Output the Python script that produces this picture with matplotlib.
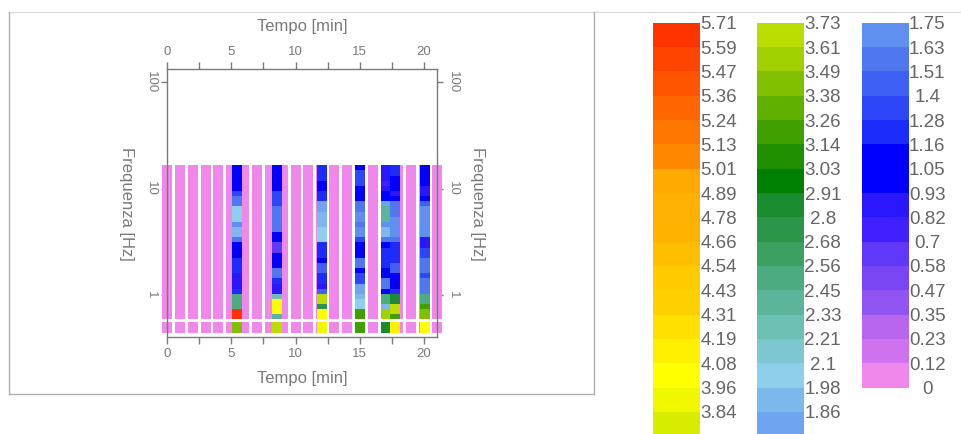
#!/usr/bin/python
import numpy as np
import matplotlib
matplotlib.use("Agg")
import matplotlib.pyplot as plt
from matplotlib.colors import ListedColormap, BoundaryNorm
from matplotlib.lines import Line2D
from matplotlib.ticker import NullLocator

plt.rcParams['font.family'] = ['Liberation Sans', 'DejaVu Sans']

W, H = 961, 434
GREY = '#7a7a7a'

# colour scale, top to bottom
levelLabels1 = ['5.71', '5.59', '5.47', '5.36', '5.24', '5.13', '5.01', '4.89', '4.78',
                '4.66', '4.54', '4.43', '4.31', '4.19', '4.08', '3.96', '3.84']
levelLabels2 = ['3.73', '3.61', '3.49', '3.38', '3.26', '3.14', '3.03', '2.91', '2.8',
                '2.68', '2.56', '2.45', '2.33', '2.21', '2.1', '1.98', '1.86']
levelLabels3 = ['1.75', '1.63', '1.51', '1.4', '1.28', '1.16', '1.05', '0.93', '0.82',
                '0.7', '0.58', '0.47', '0.35', '0.23', '0.12', '0']
bandColors1 = ['#ff3300', '#ff4400', '#ff5500', '#ff6600', '#ff7700', '#ff8800', '#ffaa00',
               '#ffb000', '#ffb300', '#ffbf00', '#ffcc00', '#ffd000', '#ffe000', '#fff000',
               '#ffff00', '#f0f800', '#d8ec00']
bandColors2 = ['#bbdd00', '#a0d000', '#80c000', '#60b000', '#40a000', '#209000', '#008000',
               '#1a8c30', '#2b964a', '#3ca060', '#4dab80', '#5cb59a', '#6cbfb3', '#7cc7d0',
               '#8ed0ec', '#7db8ec', '#6ea4f0']
bandColors3 = ['#5f8ff0', '#4f78f0', '#3f60f5', '#2c46f8', '#1c2cfa', '#0000ff', '#0000ff',
               '#2a16ff', '#4020ff', '#6038fa', '#7a46f5', '#9055f0', '#b866f0', '#d072ee',
               '#f088ec']

# frequency bin edges [Hz], top to bottom
freqEdges = [16.5, 14.77, 13.21, 11.83, 10.58, 9.47, 8.47, 7.58, 6.79, 6.07, 5.43, 4.86,
             4.35, 3.89, 3.48, 3.12, 2.79, 2.50, 2.23, 2.00, 1.79, 1.60, 1.43, 1.28, 1.15,
             1.03, 0.92, 0.82, 0.74, 0.66, 0.59]
lowEdges = [0.558, 0.44]

# empty measurements every minute
pinkTimes = list(range(0, 22))

# measured columns
times = [5.45, 8.55, 12.05, 15.0, 17.0, 17.75, 20.05]
col0 = [1.05, 1.05, 1.05, 1.05, 1.1, 1.3, 1.6, 1.6, 2.05, 2.05, 2.05, 1.7, 1.95, 1.95, 1.6,
        1.05, 1.05, 1.05, 1.25, 1.25, 1.25, 0.9, 0.9, 0.9, 1.2, 2.5, 2.5, 2.5, 5.65, 5.65]
col1 = [1.05, 1.05, 1.05, 1.05, 1.05, 1.3, 1.35, 1.35, 1.6, 1.6, 1.6, 1.6, 1.6, 1.05, 1.05,
        0.65, 0.65, 1.05, 1.05, 1.05, 1.55, 1.55, 1.2, 0.9, 0.9, 2.25, 4.05, 4.05, 4.05, 2.35]
col2 = [1.25, 1.25, 1.25, 1.05, 1.05, 1.2, 1.2, 1.8, 1.8, 1.95, 1.95, 1.95, 2.05, 2.05, 2.05,
        1.25, 1.25, 1.25, 1.1, 1.4, 1.4, 1.2, 1.2, 0.9, 1.45, 3.65, 3.65, 2.75, 4.05, 4.05]
col3 = [1.05, 1.3, 1.3, 1.3, 0.95, 0.95, 1.1, 1.55, 1.55, 1.7, 1.7, 1.55, 1.65, 1.65, 1.3,
        1.05, 1.05, 1.05, 1.55, 1.55, 1.05, 1.3, 1.3, 1.85, 1.85, 1.95, 2.05, 2.05, 3.25, 3.25]
col4 = [0.9, 0.9, 0.9, 0.7, 0.9, 1.05, 1.05, 1.8, 2.35, 2.35, 2.35, 1.7, 1.95, 1.95, 1.6,
        1.1, 1.2, 1.2, 1.2, 1.2, 1.05, 1.05, 1.6, 1.6, 1.1, 2.45, 2.45, 1.9, 3.6, 3.6]
col5 = [1.25, 1.25, 1.05, 1.05, 1.05, 0.85, 1.1, 1.55, 1.55, 1.55, 1.7, 1.7, 1.7, 1.7, 1.55,
        1.2, 1.2, 1.2, 1.2, 1.4, 1.4, 1.05, 1.05, 1.05, 1.25, 2.85, 2.85, 3.7, 3.7, 3.25]
col6 = [1.05, 1.05, 1.05, 1.05, 0.9, 0.9, 1.05, 1.5, 1.7, 1.7, 1.7, 1.7, 1.7, 1.7, 0.9,
        0.9, 1.35, 1.35, 1.55, 1.55, 1.55, 1.3, 1.55, 1.55, 1.55, 2.5, 2.5, 3.15, 3.4, 3.4]
columns = [col0, col1, col2, col3, col4, col5, col6]
lowRow = [3.45, 3.7, 3.85, 3.25, 2.9, 4.1, 4.05]

COL_WIDTH = 0.78

# the whole scale, low to high, for the heatmap
bounds = [0.0] + [float(s) for s in (levelLabels3[::-1][1:] + levelLabels2[::-1] + levelLabels1[::-1])]
allColors = (bandColors1 + bandColors2 + bandColors3)[::-1]
cmap = ListedColormap(allColors)
norm = BoundaryNorm(bounds, cmap.N)


def pixel_axes(fig, left, top, right, bottom):
    return fig.add_axes([left / W, 1 - bottom / H, (right - left) / W, (bottom - top) / H])


def draw_column(ax, t, edges, values, zorder):
    xEdges = [t - COL_WIDTH / 2, t + COL_WIDTH / 2]
    grid = np.array(values, dtype=float).reshape(-1, 1)
    ax.pcolormesh(xEdges, edges, grid, cmap=cmap, norm=norm, clip_on=False,
                  zorder=zorder, rasterized=True, linewidth=0)


def draw_scale(fig, left, labels, colors):
    bandH = 24.33
    right = left + 47
    top = 22.7
    ax = pixel_axes(fig, left, top, right, top + bandH * len(colors))
    ax.pcolormesh([0, 1], range(len(colors) + 1), np.arange(len(colors)).reshape(-1, 1),
                  cmap=ListedColormap(colors), linewidth=0, rasterized=True)
    ax.set_xlim(0, 1)
    ax.set_ylim(len(colors), 0)
    ax.set_xticks([])
    ax.yaxis.tick_right()
    ax.set_yticks(range(len(labels)))
    ax.set_yticklabels(labels, ha='center', fontsize=13.5, color='#666666')
    ax.tick_params(axis='y', length=0, pad=13.5)
    for s in ax.spines.values():
        s.set_visible(False)
    ax.patch.set_visible(False)


fig = plt.figure(figsize=(W / 100, H / 100), dpi=100)

# panel frame lines
fig.add_artist(Line2D([9 / W, 1], [1 - 12 / H, 1 - 12 / H], color='#dcdcdc', lw=1))
for xs, ys in [([9, 9], [12, 394]), ([594, 594], [12, 394]), ([9, 594], [394, 394])]:
    fig.add_artist(Line2D([x / W for x in xs], [1 - y / H for y in ys], color='#b0b0b0', lw=1))

ax = pixel_axes(fig, 167, 69, 437, 337)
ax.set_yscale('log')

for t in pinkTimes:
    draw_column(ax, t, freqEdges, [0.05] * (len(freqEdges) - 1), 2)
    draw_column(ax, t, lowEdges, [0.05], 2)
for t, col, low in zip(times, columns, lowRow):
    draw_column(ax, t, freqEdges, col, 3)
    draw_column(ax, t, lowEdges, [low], 3)

ax.set_xlim(0, 21)
ax.set_ylim(0.4036, 132.5)

ax.set_xticks([0, 5, 10, 15, 20])
ax.set_xticks([2.5, 7.5, 12.5, 17.5], minor=True)
ax.set_yticks([1, 10, 100])
ax.set_yticklabels(['1', '10', '100'])
ax.yaxis.set_minor_locator(NullLocator())
ax.tick_params(axis='x', which='both', top=True, bottom=True, labeltop=True, labelbottom=True,
               length=5, width=1, color=GREY, labelcolor=GREY, labelsize=9.5, pad=3)
ax.tick_params(axis='y', which='major', left=True, right=True, labelleft=True, labelright=True,
               length=4.5, width=1, color=GREY, labelcolor=GREY, labelsize=9.5, pad=3)
for lab in ax.get_yticklabels() + [t.label2 for t in ax.yaxis.get_major_ticks()]:
    lab.set_rotation(270)
    lab.set_va('center')
for s in ax.spines.values():
    s.set_color(GREY)
    s.set_linewidth(1)
    s.set_zorder(5)

fig.text(302 / W, 1 - 26 / H, 'Tempo [min]', ha='center', va='center', color=GREY, fontsize=12)
fig.text(302 / W, 1 - 378 / H, 'Tempo [min]', ha='center', va='center', color=GREY, fontsize=12)
fig.text(126 / W, 1 - 204 / H, 'Frequenza [Hz]', ha='center', va='center', rotation=270,
         color=GREY, fontsize=12)
fig.text(477 / W, 1 - 204 / H, 'Frequenza [Hz]', ha='center', va='center', rotation=270,
         color=GREY, fontsize=12)

draw_scale(fig, 653, levelLabels1, bandColors1)
draw_scale(fig, 757, levelLabels2, bandColors2)
draw_scale(fig, 861.5, levelLabels3, bandColors3)

fig.savefig('out.png', dpi=100)
